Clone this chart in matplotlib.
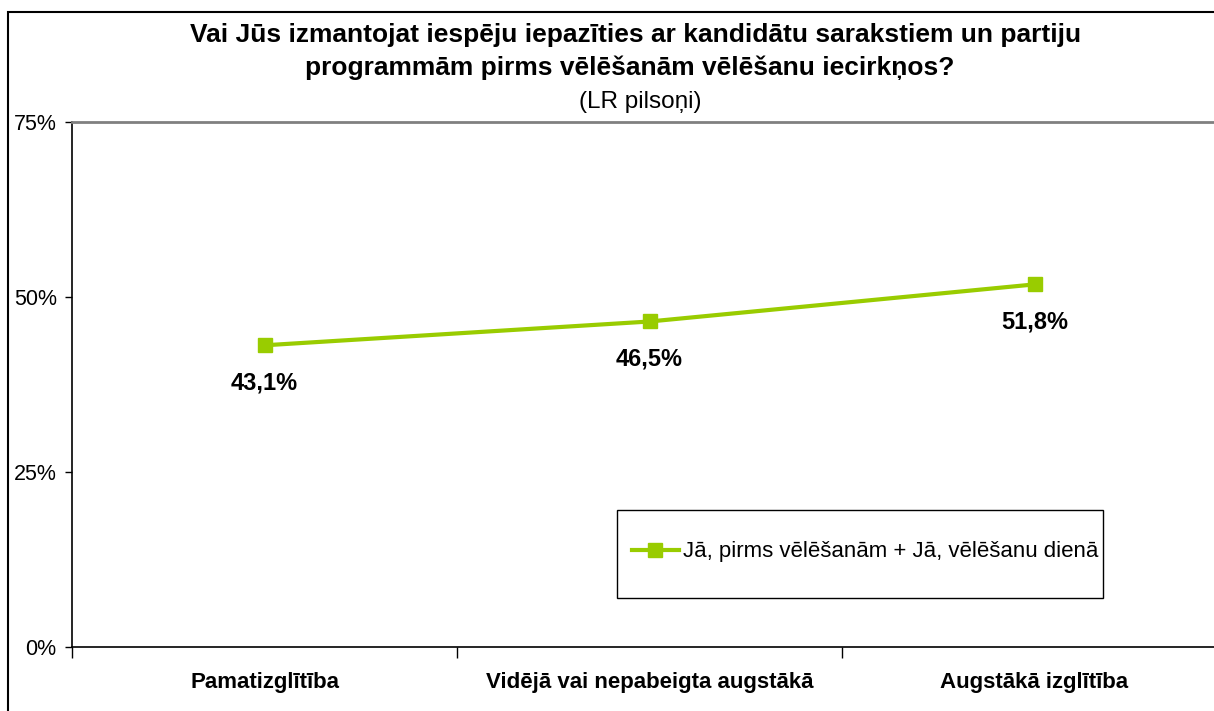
import matplotlib.pyplot as plt
from matplotlib.patches import Rectangle
from matplotlib.lines import Line2D

plt.rcParams['font.family'] = ['Liberation Sans', 'DejaVu Sans']

categories = ['Pamatizglītība', 'Vidējā vai nepabeigta augstākā', 'Augstākā izglītība']
values = [43.1, 46.5, 51.8]
series_name = 'Jā, pirms vēlēšanām + Jā, vēlēšanu dienā'
title_lines = [
    'Vai Jūs izmantojat iespēju iepazīties ar kandidātu sarakstiem un partiju',
    'programmām pirms vēlēšanām vēlēšanu iecirkņos?',
]
subtitle = '(LR pilsoņi)'
y_ticks = [0, 25, 50, 75]

W, H = 1214, 711
green = '#99CC00'

fig = plt.figure(figsize=(W / 100, H / 100), dpi=100)

# outer chart frame (right/bottom edges fall outside the canvas)
fig.patches.append(Rectangle((8 / W, -0.1), 1.2, 1 - 12 / H + 0.1, transform=fig.transFigure,
                             fill=False, edgecolor='black', linewidth=1.5, clip_on=False))

ax = fig.add_axes([72 / W, 1 - 647 / H, (1227 - 72) / W, (647 - 122) / H])
x = list(range(len(categories)))
ax.plot(x, values, color=green, linewidth=3, marker='s', markersize=10,
        markerfacecolor=green, markeredgecolor=green, label=series_name)

for xi, v in zip(x, values):
    ax.annotate(f'{v:.1f}'.replace('.', ',') + '%', (xi, v), xytext=(0, -38),
                textcoords='offset pixels', ha='center', va='center',
                fontsize=17, fontweight='bold')

ax.set_xlim(-0.5, len(categories) - 0.5)
ax.set_ylim(0, 75)
ax.set_yticks(y_ticks)
ax.set_yticklabels([f'{t}%' for t in y_ticks], fontsize=15.5)
ax.tick_params(axis='y', direction='out', length=5, width=1, color='black', pad=6)

ax.set_xticks(x)
ax.set_xticklabels(categories, fontsize=16, fontweight='bold')
ax.set_xticks([i - 0.5 for i in range(len(categories) + 1)], minor=True)
ax.tick_params(axis='x', which='major', length=0, pad=18)
ax.tick_params(axis='x', which='minor', direction='out', length=8, width=1, color='black')

ax.spines['top'].set_color('#808080')
ax.spines['top'].set_linewidth(2)
ax.spines['right'].set_visible(False)
ax.spines['left'].set_color('black')
ax.spines['bottom'].set_color('black')
ax.spines['left'].set_linewidth(1.2)
ax.spines['bottom'].set_linewidth(1.2)

# title
fig.text(636 / W, 1 - 35 / H, title_lines[0], ha='center', va='center', fontsize=19, fontweight='bold')
fig.text(630 / W, 1 - 68 / H, title_lines[1], ha='center', va='center', fontsize=19, fontweight='bold')
fig.text(640 / W, 1 - 102 / H, subtitle, ha='center', va='center', fontsize=17.5)

# legend box
fig.patches.append(Rectangle((617 / W, 1 - 598 / H), (1103 - 617) / W, (598 - 510) / H,
                             transform=fig.transFigure, facecolor='white', edgecolor='black',
                             linewidth=1, zorder=5))
handle = Line2D([], [], color=green, linewidth=3, marker='s', markersize=10,
                markerfacecolor=green, markeredgecolor=green)
leg = fig.legend([handle], [series_name], loc='center left',
                 bbox_to_anchor=(632 / W, 1 - 552 / H), frameon=False, fontsize=16,
                 handlelength=2.1, handletextpad=0.2, borderaxespad=0, borderpad=0)
leg.set_zorder(6)

fig.savefig('out.png', dpi=100)
